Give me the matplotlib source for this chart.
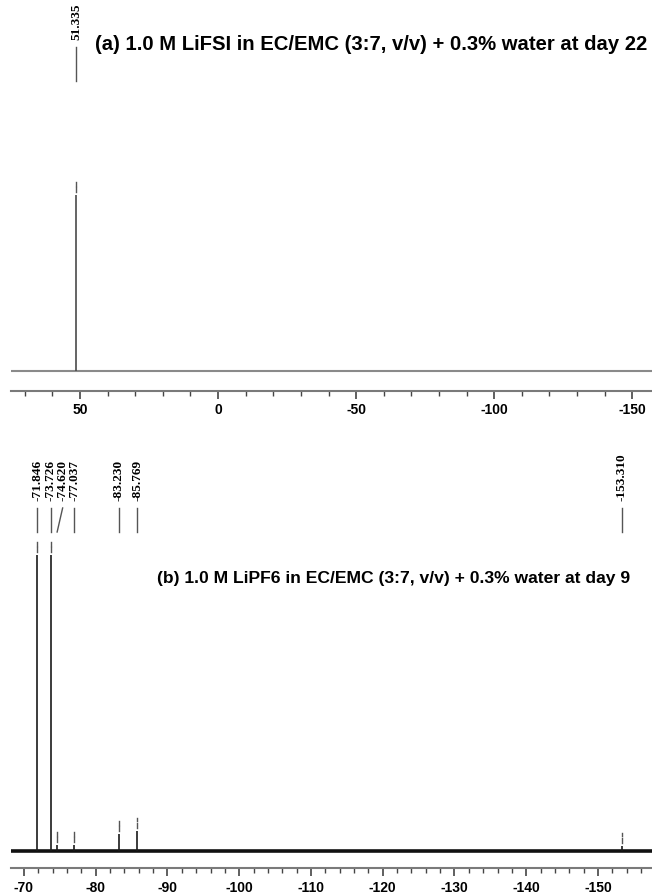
import matplotlib
matplotlib.use("Agg")
import matplotlib.pyplot as plt
from matplotlib.transforms import blended_transform_factory, offset_copy
from matplotlib.ticker import MultipleLocator, FixedLocator

# ---- data -------------------------------------------------------------
a_title = "(a) 1.0 M LiFSI in EC/EMC (3:7, v/v) + 0.3% water at day 22"
a_peaks_ppm = [51.335]
a_peaks_int = [1.0]
a_ticks = [50, 0, -50, -100, -150]

b_title = "(b) 1.0 M LiPF6 in EC/EMC (3:7, v/v) + 0.3% water at day 9"
b_peaks_ppm = [-71.846, -73.726, -74.620, -77.037, -83.230, -85.769, -153.310]
b_peaks_int = [1.0, 1.0, 0.02, 0.02, 0.057, 0.068, 0.017]
b_ticks = [-70, -80, -90, -100, -110, -120, -130, -140, -150]

# ---- figure ----------------------------------------------------------
W, H, DPI = 652, 894, 100
fig = plt.figure(figsize=(W / DPI, H / DPI), dpi=DPI)
fig.patch.set_facecolor("white")

SANS = ["Liberation Sans", "DejaVu Sans"]
SERIF = ["Liberation Serif", "DejaVu Serif"]


def px_axes(left, top, right, bottom):
    return fig.add_axes([left / W, 1 - bottom / H, (right - left) / W, (bottom - top) / H])


def fy(y):
    return 1 - y / H


def style_axis(ax, ticks, minor_step, tick_color="#444444"):
    for s in ("top", "left", "right"):
        ax.spines[s].set_visible(False)
    ax.spines["bottom"].set_color("#7a7a7a")
    ax.spines["bottom"].set_linewidth(1.5)
    ax.set_yticks([])
    ax.xaxis.set_major_locator(FixedLocator(ticks))
    ax.xaxis.set_minor_locator(MultipleLocator(minor_step))
    ax.tick_params(axis="x", which="major", direction="out", length=6,
                   width=1.2, color=tick_color, pad=3)
    ax.tick_params(axis="x", which="minor", direction="out", length=3.5,
                   width=1.0, color=tick_color)
    ax.set_xticklabels([f"{t:g}" for t in ticks], fontfamily=SANS,
                       fontweight="bold", fontsize=10)
    ax.set_facecolor("none")


def peak_marks(ax, ppm, ints, px_per_unit):
    gap, seg = 3 / px_per_unit, 5 / px_per_unit
    for x, h in zip(ppm, ints):
        ax.plot([x, x], [h + gap, h + gap + seg], color="#555555", lw=1.0)
        ax.plot([x, x], [h + gap + seg + 1.5 / px_per_unit,
                         h + gap + 2 * seg], color="#555555", lw=1.0)


def peak_labels(ax, ppm, label_dx, y_text, y_top, y_bot, lw=1.0):
    tr = blended_transform_factory(ax.transData, fig.transFigure)
    for x, dx in zip(ppm, label_dx):
        tr_lab = offset_copy(tr, fig=fig, x=dx, y=0, units="dots")
        # leader line from the label column down to the peak position
        x1 = ax.transData.transform((x, 0))[0]
        x0 = x1 + dx
        fig.add_artist(plt.Line2D([x0 / W, x1 / W], [fy(y_top), fy(y_bot)],
                                  transform=fig.transFigure, color="#555555", lw=lw))
        ax.text(x, fy(y_text), f"{x:.3f}", transform=tr_lab, rotation=90,
                ha="center", va="bottom", fontfamily=SERIF, fontweight="bold",
                fontsize=9.5, clip_on=False)


# ---- panel (a) -------------------------------------------------------
a_top, a_spine, a_base, a_peak_px = 0, 391, 371, 195
ax_a = px_axes(11, a_top, 652, a_spine)
ppu_a = (a_base - a_peak_px) / max(a_peaks_int)
ax_a.set_xlim(74.99, -157.13)
ax_a.set_ylim(-(a_spine - a_base) / ppu_a, (a_base - a_top) / ppu_a)
ax_a.axhline(0, color="#8a8a8a", lw=1.5)
ax_a.vlines(a_peaks_ppm, 0, a_peaks_int, color="#4a4a4a", lw=1.2)
peak_marks(ax_a, a_peaks_ppm, a_peaks_int, ppu_a)
style_axis(ax_a, a_ticks, 10)
fig.canvas.draw()
peak_labels(ax_a, a_peaks_ppm, [0], 40, 47, 81)
fig.text(95 / W, fy(45), a_title, fontfamily=SANS, fontweight="bold",
         fontsize=14.6, ha="left", va="center")

# ---- panel (b) -------------------------------------------------------
b_top, b_spine, b_base, b_peak_px = 430, 868, 851, 555
ax_b = px_axes(11, b_top, 652, b_spine)
ppu_b = (b_base - b_peak_px) / max(b_peaks_int)
ax_b.set_xlim(-68.19, -157.53)
ax_b.set_ylim(-(b_spine - b_base) / ppu_b, (b_base - b_top) / ppu_b)
ax_b.axhline(0, color="#111111", lw=2.6)
ax_b.vlines(b_peaks_ppm, 0, b_peaks_int, color="#1a1a1a", lw=1.2)
peak_marks(ax_b, b_peaks_ppm, b_peaks_int, ppu_b)
style_axis(ax_b, b_ticks, 2)
fig.canvas.draw()
peak_labels(ax_b, b_peaks_ppm, [0, 0, 5.5, 0, 0, 0, 0], 501, 508, 532)
fig.text(157 / W, fy(578), b_title, fontfamily=SANS, fontweight="bold",
         fontsize=12.6, ha="left", va="center")

fig.savefig("out.png", dpi=DPI, facecolor="white")
